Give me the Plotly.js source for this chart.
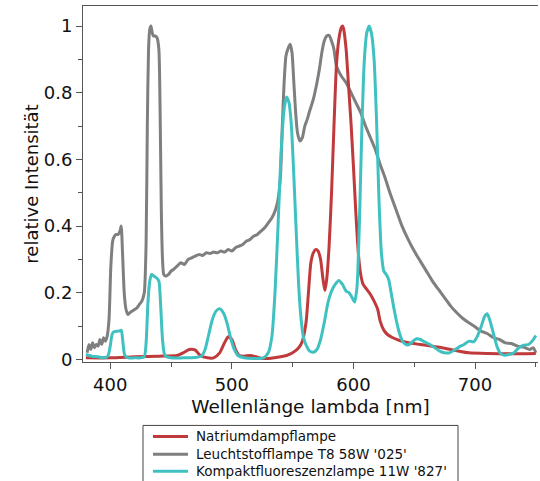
<!DOCTYPE html>
<html>
<head>
<meta charset="utf-8">
<script src="https://cdn.plot.ly/plotly-3.0.1.min.js"></script>
<style>html,body{margin:0;padding:0;background:#fff;}#chart{width:540px;height:481px;}</style>
</head>
<body>
<div id="chart"></div>
<script>
// Leuchtstofflampe T8 58W '025'
const grayX = [381,382.5,384,385.5,387,388.5,390,391.5,393,394.5,396,397.5,399,400.5,402,403.5,405,406.5,408,409,410,411.5,413,414.5,416,418,420,422,424,426,428,429.5,430.5,431.5,432.5,433.5,434.5,435.5,437,438.5,440,441,442,443,444,445.5,448,450,452,455,458,461,464,467,470,473,476,479,482,485,488,491,494,497,500,503,506,509,512,515,518,521,524,527,530,533,536,538,540,541.5,543,544.5,546,548,549.5,551,552.5,554,556,558,560,562,564,567,570,572,574,576,578,580,582,584,586,590,594,598,602,606,610,614,618,622,626,630,635,640,645,650,655,660,665,670,675,680,685,690,695,700,705,710,715,720,725,730,735,740,745,748,750];
const grayY = [0.02,0.045,0.03,0.05,0.035,0.045,0.04,0.06,0.045,0.065,0.055,0.07,0.12,0.28,0.355,0.37,0.375,0.375,0.385,0.40,0.33,0.20,0.15,0.135,0.14,0.145,0.15,0.155,0.165,0.175,0.20,0.35,0.70,0.93,0.99,1.0,0.98,0.97,0.97,0.965,0.93,0.75,0.45,0.30,0.255,0.25,0.255,0.265,0.27,0.28,0.29,0.285,0.30,0.305,0.31,0.315,0.312,0.32,0.318,0.322,0.32,0.325,0.322,0.33,0.325,0.335,0.34,0.345,0.355,0.36,0.37,0.375,0.385,0.395,0.41,0.425,0.45,0.48,0.55,0.70,0.83,0.91,0.93,0.945,0.92,0.83,0.74,0.68,0.655,0.665,0.70,0.72,0.745,0.78,0.83,0.87,0.92,0.955,0.97,0.972,0.955,0.93,0.88,0.85,0.83,0.80,0.77,0.74,0.70,0.665,0.63,0.585,0.545,0.50,0.45,0.40,0.36,0.325,0.295,0.265,0.235,0.21,0.185,0.16,0.14,0.123,0.11,0.098,0.085,0.078,0.066,0.06,0.05,0.048,0.04,0.037,0.03,0.035,0.02];

// Natriumdampflampe
const redX = [380,400,420,440,455,460,465,470,474,480,485,490,494,497,500,503,506,510,515,520,525,530,535,540,545,550,555,558,561,563,565,567,569,571,573,575,576.5,578,580,582,584,586,588,590,591,592,594,596,598,600,602,604,606,608,611,614,617,620,622,625,628,632,638,645,655,665,672,680,688,695,710,730,750];
const redY = [0.005,0.005,0.008,0.01,0.012,0.02,0.03,0.028,0.012,0.005,0.005,0.02,0.05,0.068,0.06,0.03,0.012,0.01,0.012,0.008,0.003,0.003,0.005,0.008,0.012,0.02,0.035,0.055,0.11,0.2,0.29,0.32,0.33,0.325,0.30,0.24,0.207,0.24,0.34,0.50,0.70,0.88,0.96,0.995,1.0,0.99,0.93,0.82,0.71,0.58,0.44,0.32,0.255,0.225,0.21,0.195,0.175,0.15,0.115,0.088,0.075,0.066,0.057,0.05,0.045,0.04,0.036,0.03,0.024,0.02,0.018,0.017,0.018];

// Kompaktfluoreszenzlampe 11W '827'
const tealX = [380,385,390,395,398,400,401.5,403,405,407,409,410.5,412,415,420,425,428,429.5,431,432.5,434,436,438,440,441.5,443,445,450,460,470,475,478,481,484,487,490,493,496,499,502,505,510,520,526,530,533,535.5,538,540.5,543,545,547,549,551,553,555,557,559,561.5,564,567,570,573,576,579,582,585,588,591,594,596.5,599,601,603,605,607,609,611,613,615,617,619,621,623,625,627,629,631.5,634,637,640,643,646,649,652,655,659,663,667,671,675,679,683,687,691,695,699,702,705,708,710,712,715,718,721,724,728,732,736,740,744,747,750];
const tealY = [0.015,0.01,0.008,0.005,0.01,0.04,0.075,0.083,0.085,0.085,0.088,0.05,0.012,0.005,0.005,0.005,0.008,0.05,0.17,0.235,0.255,0.25,0.245,0.235,0.16,0.06,0.012,0.005,0.005,0.006,0.01,0.03,0.075,0.12,0.145,0.152,0.14,0.11,0.065,0.03,0.012,0.005,0.003,0.005,0.02,0.07,0.20,0.40,0.62,0.75,0.787,0.77,0.70,0.55,0.38,0.22,0.12,0.065,0.04,0.025,0.022,0.03,0.06,0.11,0.17,0.205,0.225,0.237,0.225,0.205,0.2,0.185,0.172,0.22,0.42,0.70,0.90,0.98,1.0,0.975,0.90,0.72,0.48,0.32,0.265,0.255,0.24,0.19,0.14,0.09,0.058,0.045,0.045,0.055,0.062,0.06,0.052,0.045,0.035,0.025,0.02,0.02,0.028,0.038,0.045,0.055,0.053,0.07,0.098,0.13,0.137,0.12,0.08,0.04,0.018,0.013,0.015,0.02,0.035,0.043,0.045,0.055,0.072];

const names = ["Natriumdampflampe", "Leuchtstofflampe T8 58W '025'", "Kompaktfluoreszenzlampe 11W '827'"];
const colors = ["#c03a3c", "#7f7f7f", "#3fc1c1"];

const traces = [
  {x: grayX, y: grayY, name: names[1], line: {color: colors[1], width: 3, shape: 'spline', smoothing: 0.6}},
  {x: redX, y: redY, name: names[0], line: {color: colors[0], width: 3, shape: 'spline', smoothing: 0.6}},
  {x: tealX, y: tealY, name: names[2], line: {color: colors[2], width: 3, shape: 'spline', smoothing: 0.6}}
].map(t => Object.assign({type: 'scatter', mode: 'lines', showlegend: false}, t));

// Legend drawn in figure pixels, converted to paper coordinates
const M = {l: 83, r: 2, t: 6, b: 118.5};
const PW = 540 - M.l - M.r, PH = 481 - M.t - M.b;
const px = v => (v - M.l) / PW;
const py = v => (481 - M.b - v) / PH;
const legendRows = [437, 455, 472];
const shapes = [{type: 'rect', xref: 'paper', yref: 'paper', x0: px(143), x1: px(458), y0: py(426), y1: py(495),
  line: {color: '#444', width: 1}, fillcolor: '#fff', layer: 'above'}];
const annotations = [];
names.forEach((n, i) => {
  shapes.push({type: 'line', xref: 'paper', yref: 'paper', x0: px(153), x1: px(188), y0: py(legendRows[i]), y1: py(legendRows[i]),
    line: {color: colors[i], width: 3}, layer: 'above'});
  annotations.push({xref: 'paper', yref: 'paper', x: px(194), y: py(legendRows[i]), xanchor: 'left', yanchor: 'middle',
    text: n, showarrow: false, font: {family: 'DejaVu Sans, sans-serif', size: 13.5, color: '#111'}});
});

const font = {family: 'DejaVu Sans, sans-serif', color: '#111'};
const layout = {
  width: 540, height: 481,
  margin: {l: M.l, r: M.r, t: M.t, b: M.b, autoexpand: false},
  paper_bgcolor: '#fff', plot_bgcolor: '#fff',
  font: Object.assign({size: 18}, font),
  showlegend: false,
  shapes: shapes,
  annotations: annotations,
  xaxis: {
    range: [377.6, 751.8], showgrid: false, zeroline: false,
    showline: true, linecolor: '#555', linewidth: 1, mirror: true,
    ticks: 'outside', ticklen: 6, tickcolor: '#555', tickwidth: 1,
    tickvals: [400, 500, 600, 700], tickfont: {size: 18},
    minor: {tickvals: [450, 550, 650, 750], ticks: 'outside', ticklen: 4, tickcolor: '#555', showgrid: false},
    title: {text: 'Wellenlänge lambda [nm]', font: {size: 18.5}, standoff: 6}
  },
  yaxis: {
    range: [-0.0075, 1.06], showgrid: false, zeroline: false,
    showline: true, linecolor: '#555', linewidth: 1, mirror: false,
    ticks: 'outside', ticklen: 6, tickcolor: '#555', tickwidth: 1,
    tickvals: [0, 0.2, 0.4, 0.6, 0.8, 1], tickfont: {size: 18},
    minor: {tickvals: [0.1, 0.3, 0.5, 0.7, 0.9], ticks: 'outside', ticklen: 4, tickcolor: '#555', showgrid: false},
    title: {text: 'relative Intensität', font: {size: 18}, standoff: 0}
  }
};

Plotly.newPlot('chart', traces, layout, {displayModeBar: false, staticPlot: true});
</script>
</body>
</html>
